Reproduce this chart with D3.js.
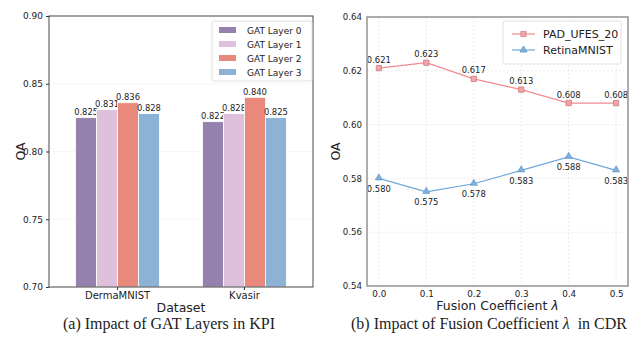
<!DOCTYPE html>
<html>
<head>
<meta charset="utf-8">
<script src="https://cdn.jsdelivr.net/npm/d3@7"></script>
<style>
  body { margin: 0; background: #fff; }
  text { font-family: "DejaVu Sans", sans-serif; fill: #222; }
  .cap { font-family: "Liberation Serif", "Times New Roman", serif; font-size: 16px; }
</style>
</head>
<body>
<svg id="chart" width="631" height="341"></svg>
<script>
// left: GAT layers
const datasets = ['DermaMNIST', 'Kvasir'];
const layers = ['GAT Layer 0', 'GAT Layer 1', 'GAT Layer 2', 'GAT Layer 3'];
const layerValues = [
  [0.825, 0.822],
  [0.831, 0.828],
  [0.836, 0.840],
  [0.828, 0.825]
];
const barTicks = [0.70, 0.75, 0.80, 0.85, 0.90];

// right: fusion coefficient
const lambdas = [0.0, 0.1, 0.2, 0.3, 0.4, 0.5];
const padValues = [0.621, 0.623, 0.617, 0.613, 0.608, 0.608];
const retinaValues = [0.580, 0.575, 0.578, 0.583, 0.588, 0.583];
const lineTicks = [0.54, 0.56, 0.58, 0.60, 0.62, 0.64];

const svg = d3.select('#chart');
const layerColors = ['#9581AD', '#DEC0DC', '#E8897B', '#8CB3D6'];

// fit a caption to the width it has in the figure
function fitCaption(sel, width) {
  const w = sel.node().getComputedTextLength();
  sel.attr('font-size', 16 * width / w);
}

// ---------- (a) bar chart ----------
const A = { l: 49, r: 313, t: 16, b: 287 };
const ya = d3.scaleLinear().domain([0.70, 0.90]).range([A.b, A.t]);
const x0 = d3.scaleBand().domain(datasets).range([A.l, A.r]).paddingInner(0.34).paddingOuter(0.21);
const x1 = d3.scaleBand().domain(layers).range([0, x0.bandwidth()]);

const ga = svg.append('g');

ga.selectAll('line.grid')
  .data(barTicks)
  .enter()
  .append('line')
  .attr('x1', A.l).attr('x2', A.r)
  .attr('y1', d => ya(d)).attr('y2', d => ya(d))
  .attr('stroke', '#e6e6e6')
  .attr('stroke-width', 0.6)
  .attr('stroke-dasharray', '2,2');

layers.forEach((layer, li) => {
  const g = ga.append('g');
  g.selectAll('rect')
    .data(datasets)
    .enter()
    .append('rect')
    .attr('x', (d) => x0(d) + x1(layer))
    .attr('width', x1.bandwidth())
    .attr('y', (d, i) => ya(layerValues[li][i]))
    .attr('height', (d, i) => ya(0.70) - ya(layerValues[li][i]))
    .attr('fill', layerColors[li])
    .attr('stroke', '#fff')
    .attr('stroke-width', 0.8);
  g.selectAll('text')
    .data(datasets)
    .enter()
    .append('text')
    .attr('x', (d) => x0(d) + x1(layer) + x1.bandwidth() / 2)
    .attr('y', (d, i) => ya(layerValues[li][i]) - 2.5)
    .attr('text-anchor', 'middle')
    .attr('font-size', 8.4)
    .text((d, i) => layerValues[li][i].toFixed(3));
});

ga.append('rect')
  .attr('x', A.l).attr('y', A.t)
  .attr('width', A.r - A.l).attr('height', A.b - A.t)
  .attr('fill', 'none')
  .attr('stroke', '#333')
  .attr('stroke-width', 0.9);

const yAxisA = ga.append('g')
  .attr('transform', `translate(${A.l},0)`)
  .call(d3.axisLeft(ya).tickValues(barTicks).tickFormat(d3.format('.2f')).tickSize(3).tickPadding(3));
yAxisA.select('.domain').remove();
yAxisA.selectAll('line').attr('stroke', '#333');
yAxisA.selectAll('text').attr('font-size', 9).attr('fill', '#222').attr('font-family', 'DejaVu Sans');

const xAxisA = ga.append('g')
  .attr('transform', `translate(0,${A.b})`)
  .call(d3.axisBottom(x0).tickSize(3).tickPadding(2));
xAxisA.select('.domain').remove();
xAxisA.selectAll('line').attr('stroke', '#333');
xAxisA.selectAll('text').attr('font-size', 10).attr('fill', '#222').attr('font-family', 'DejaVu Sans');

ga.append('text')
  .attr('transform', `translate(25,${(A.t + A.b) / 2}) rotate(-90)`)
  .attr('text-anchor', 'middle')
  .attr('font-size', 12.5)
  .text('OA');

ga.append('text')
  .attr('x', (A.l + A.r) / 2).attr('y', 312)
  .attr('text-anchor', 'middle')
  .attr('font-size', 12.5)
  .text('Dataset');

const capA = ga.append('text')
  .attr('class', 'cap')
  .attr('x', 169).attr('y', 329)
  .attr('text-anchor', 'middle')
  .text('(a) Impact of GAT Layers in KPI');
fitCaption(capA, 222);

// legend (a)
const legA = ga.append('g');
legA.append('rect')
  .attr('x', 212).attr('y', 21).attr('width', 100).attr('height', 60)
  .attr('rx', 2)
  .attr('fill', '#fff').attr('stroke', '#d8d8d8').attr('stroke-width', 0.8);
layers.forEach((layer, i) => {
  legA.append('rect')
    .attr('x', 219).attr('y', 27 + i * 14).attr('width', 17).attr('height', 6)
    .attr('fill', layerColors[i]);
  legA.append('text')
    .attr('x', 247).attr('y', 33.5 + i * 14)
    .attr('font-size', 9)
    .text(layer);
});

// ---------- (b) line chart ----------
const B = { l: 367, r: 628, t: 17, b: 286 };
const xb = d3.scaleLinear().domain([-0.025, 0.525]).range([B.l, B.r]);
const yb = d3.scaleLinear().domain([0.54, 0.64]).range([B.b, B.t]);

const gb = svg.append('g');

gb.selectAll('line.hgrid')
  .data(lineTicks)
  .enter()
  .append('line')
  .attr('x1', B.l).attr('x2', B.r)
  .attr('y1', d => yb(d)).attr('y2', d => yb(d))
  .attr('stroke', '#e2e2e2')
  .attr('stroke-width', 0.7)
  .attr('stroke-dasharray', '2,2');
gb.selectAll('line.vgrid')
  .data(lambdas)
  .enter()
  .append('line')
  .attr('x1', d => xb(d)).attr('x2', d => xb(d))
  .attr('y1', B.t).attr('y2', B.b)
  .attr('stroke', '#e2e2e2')
  .attr('stroke-width', 0.7)
  .attr('stroke-dasharray', '2,2');

const padColor = '#F08A8F';
const retinaColor = '#6FA8DC';

const line = d3.line().x((d, i) => xb(lambdas[i])).y(d => yb(d));

gb.append('path')
  .datum(padValues)
  .attr('fill', 'none')
  .attr('stroke', padColor)
  .attr('stroke-width', 1.2)
  .attr('d', line);
gb.append('path')
  .datum(retinaValues)
  .attr('fill', 'none')
  .attr('stroke', retinaColor)
  .attr('stroke-width', 1.2)
  .attr('d', line);

const sq = d3.symbol().type(d3.symbolSquare).size(28);
const tri = d3.symbol().type(d3.symbolTriangle).size(22);

gb.selectAll('path.pad')
  .data(padValues)
  .enter()
  .append('path')
  .attr('transform', (d, i) => `translate(${xb(lambdas[i])},${yb(d)})`)
  .attr('d', sq)
  .attr('fill', '#F4A3A8')
  .attr('stroke', '#C87C80')
  .attr('stroke-width', 0.8);
gb.selectAll('path.ret')
  .data(retinaValues)
  .enter()
  .append('path')
  .attr('transform', (d, i) => `translate(${xb(lambdas[i])},${yb(d) - 0.5})`)
  .attr('d', tri)
  .attr('fill', '#7FB0DE')
  .attr('stroke', '#5A90C4')
  .attr('stroke-width', 0.6);

gb.selectAll('text.padlab')
  .data(padValues)
  .enter()
  .append('text')
  .attr('x', (d, i) => xb(lambdas[i]))
  .attr('y', d => yb(d) - 5.5)
  .attr('text-anchor', 'middle')
  .attr('font-size', 8.4)
  .text(d => d.toFixed(3));
gb.selectAll('text.retlab')
  .data(retinaValues)
  .enter()
  .append('text')
  .attr('x', (d, i) => xb(lambdas[i]))
  .attr('y', d => yb(d) + 13.5)
  .attr('text-anchor', 'middle')
  .attr('font-size', 8.4)
  .text(d => d.toFixed(3));

gb.append('rect')
  .attr('x', B.l).attr('y', B.t)
  .attr('width', B.r - B.l).attr('height', B.b - B.t)
  .attr('fill', 'none')
  .attr('stroke', '#999')
  .attr('stroke-width', 1.6);

const yAxisB = gb.append('g')
  .attr('transform', `translate(${B.l},0)`)
  .call(d3.axisLeft(yb).tickValues(lineTicks).tickFormat(d3.format('.2f')).tickSize(0).tickPadding(5));
yAxisB.select('.domain').remove();
yAxisB.selectAll('text').attr('font-size', 8.6).attr('fill', '#222').attr('font-family', 'DejaVu Sans');

const xAxisB = gb.append('g')
  .attr('transform', `translate(0,${B.b})`)
  .call(d3.axisBottom(xb).tickValues(lambdas).tickFormat(d3.format('.1f')).tickSize(0).tickPadding(5));
xAxisB.select('.domain').remove();
xAxisB.selectAll('text').attr('font-size', 8.8).attr('fill', '#222').attr('font-family', 'DejaVu Sans');

gb.append('text')
  .attr('transform', `translate(340,${(B.t + B.b) / 2}) rotate(-90)`)
  .attr('text-anchor', 'middle')
  .attr('font-size', 12.5)
  .text('OA');

const xl = gb.append('text')
  .attr('x', (B.l + B.r) / 2).attr('y', 310)
  .attr('text-anchor', 'middle')
  .attr('font-size', 12.5);
xl.append('tspan').text('Fusion Coefficient ');
xl.append('tspan').attr('font-style', 'italic').text('λ');

const capB = gb.append('text')
  .attr('class', 'cap')
  .attr('x', 489).attr('y', 329)
  .attr('text-anchor', 'middle');
capB.append('tspan').text('(b) Impact of Fusion Coefficient ');
capB.append('tspan').attr('font-style', 'italic').text('λ');
capB.append('tspan').text('\u00a0 in CDR');
fitCaption(capB, 276);

// legend (b)
const legB = gb.append('g');
legB.append('rect')
  .attr('x', 503).attr('y', 21).attr('width', 118).attr('height', 43)
  .attr('rx', 2)
  .attr('fill', '#fff').attr('stroke', '#d8d8d8').attr('stroke-width', 0.8);
[['PAD_UFES_20', padColor, sq, '#F4A3A8', '#C87C80'],
 ['RetinaMNIST', retinaColor, tri, '#7FB0DE', '#5A90C4']].forEach((e, i) => {
  const yy = 34 + i * 16;
  legB.append('line')
    .attr('x1', 512).attr('x2', 535).attr('y1', yy).attr('y2', yy)
    .attr('stroke', e[1]).attr('stroke-width', 1.2);
  legB.append('path')
    .attr('transform', `translate(523.5,${yy})`)
    .attr('d', e[2])
    .attr('fill', e[3]).attr('stroke', e[4]).attr('stroke-width', 0.7);
  legB.append('text')
    .attr('x', 543).attr('y', yy + 4)
    .attr('font-size', 11)
    .text(e[0]);
});
</script>
</body>
</html>
